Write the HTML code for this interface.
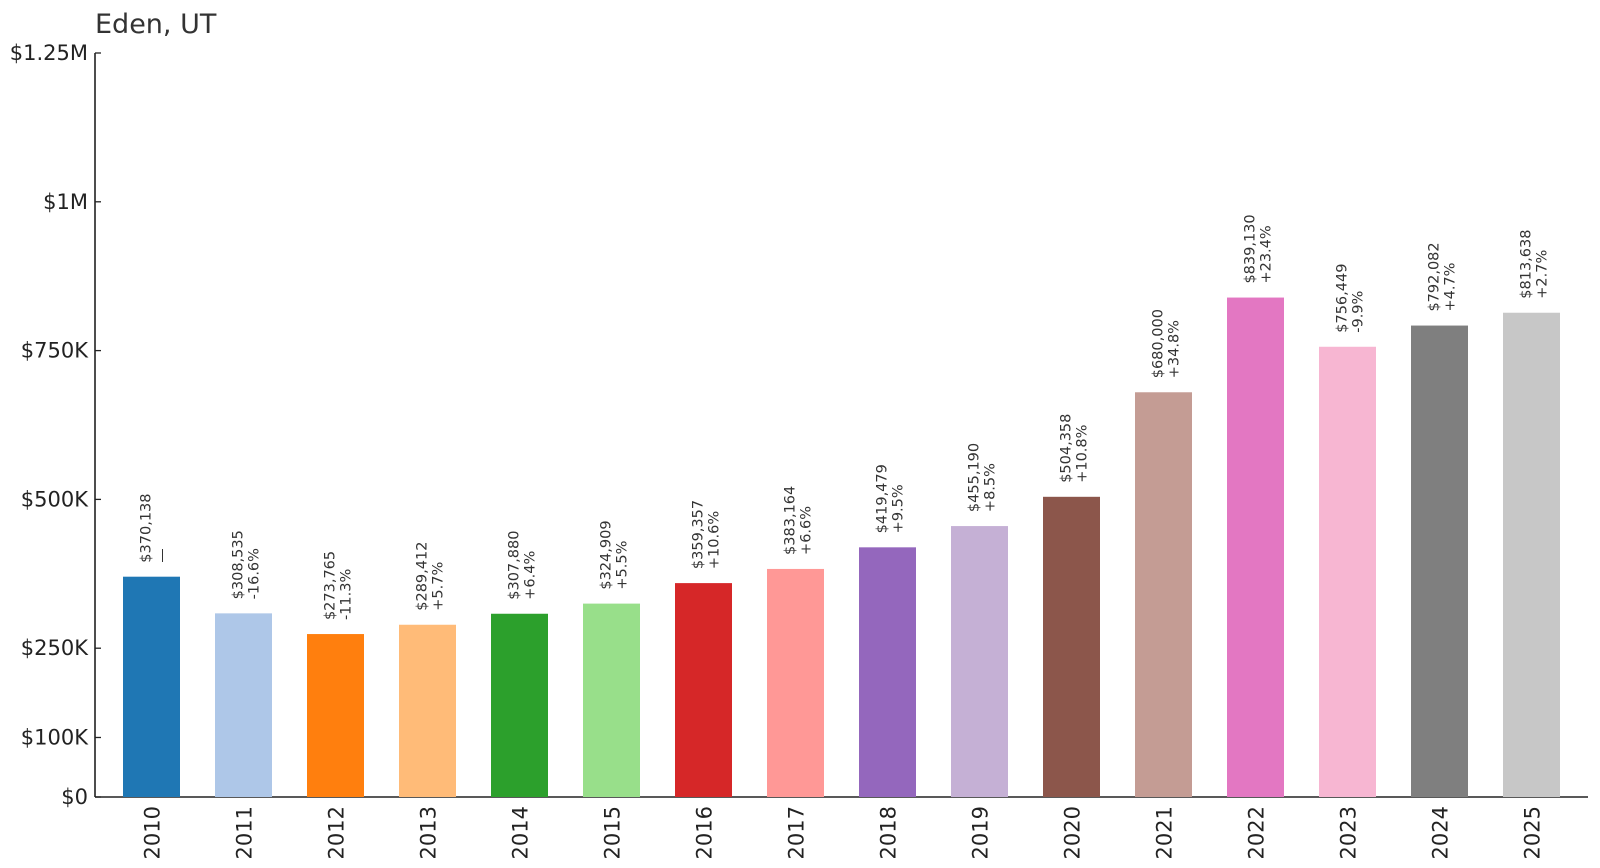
<!DOCTYPE html>
<html><head><meta charset="utf-8"><style>
body{margin:0;background:#fff;}
svg{display:block;font-family:"DejaVu Sans","Liberation Sans",sans-serif;}
</style></head><body>
<svg id="chart" width="1600" height="868" viewBox="0 0 1600 868">
<text x="95" y="33" font-size="27" fill="#333">Eden, UT</text>
<g id="axes"></g><g id="bars"></g>
</svg>
<script>
const years=["2010","2011","2012","2013","2014","2015","2016","2017","2018","2019","2020","2021","2022","2023","2024","2025"];
const values=[370138,308535,273765,289412,307880,324909,359357,383164,419479,455190,504358,680000,839130,756449,792082,813638];
const changes=["—","-16.6%","-11.3%","+5.7%","+6.4%","+5.5%","+10.6%","+6.6%","+9.5%","+8.5%","+10.8%","+34.8%","+23.4%","-9.9%","+4.7%","+2.7%"];
const tickValues=[0,100000,250000,500000,750000,1000000,1250000];
const tickLabels=["$0","$100K","$250K","$500K","$750K","$1M","$1.25M"];
const colors=["#1f77b4","#aec7e8","#ff7f0e","#ffbb78","#2ca02c","#98df8a","#d62728","#ff9896","#9467bd","#c5b0d5","#8c564b","#c49c94","#e377c2","#f7b6d2","#7f7f7f","#c7c7c7"];
const NS="http://www.w3.org/2000/svg";
const y0=797, yTop=53, vMax=1250000;
function yScale(v){return y0-(v/vMax)*(y0-yTop);}
function xScale(i){return 151.5+i*92;}
const bw=57;
function mk(tag,attrs,parent){const e=document.createElementNS(NS,tag);for(const k in attrs)e.setAttribute(k,attrs[k]);parent.appendChild(e);return e;}
const ax=document.getElementById('axes'), bg=document.getElementById('bars');
let l=mk('line',{x1:95,y1:yTop,x2:95,y2:y0,stroke:'#222','stroke-width':1.6},ax);


l=mk('line',{x1:95,y1:y0,x2:1588,y2:y0,stroke:'#222','stroke-width':1.6},ax);


tickValues.forEach((v,i)=>{
  const y=yScale(v);
  const t=mk('line',{x1:95,y1:y,x2:101,y2:y,stroke:'#222','stroke-width':1.3},ax);
  
  
  const tx=mk('text',{x:88,y:y+7,'text-anchor':'end','font-size':21,fill:'#222'},ax);
  tx.textContent=tickLabels[i];
  
  
});
years.forEach((yr,i)=>{
  const cx=xScale(i), top=yScale(values[i]);
  const r=mk('rect',{x:cx-bw/2,y:top,width:bw,height:y0-top,fill:colors[i]},bg);
  
  
  const t=mk('line',{x1:cx,y1:y0,x2:cx,y2:y0-6,stroke:'#222','stroke-width':1.3},ax);
  
  
  const xl=mk('text',{x:0,y:0,'text-anchor':'end','font-size':21,fill:'#222',transform:`translate(${cx+8},806) rotate(-90)`},ax);
  xl.textContent=yr;
  
  
  const v=mk('text',{x:0,y:0,'font-size':14.5,fill:'#333',transform:`translate(${cx-1},${top-14}) rotate(-90)`},bg);
  v.textContent='$'+values[i].toLocaleString('en-US');
  
  
  const c=mk('text',{x:0,y:0,'font-size':14.5,fill:'#333',transform:`translate(${cx+15},${top-14}) rotate(-90)`},bg);
  c.textContent=changes[i];
  
  
});
</script>
</body></html>
